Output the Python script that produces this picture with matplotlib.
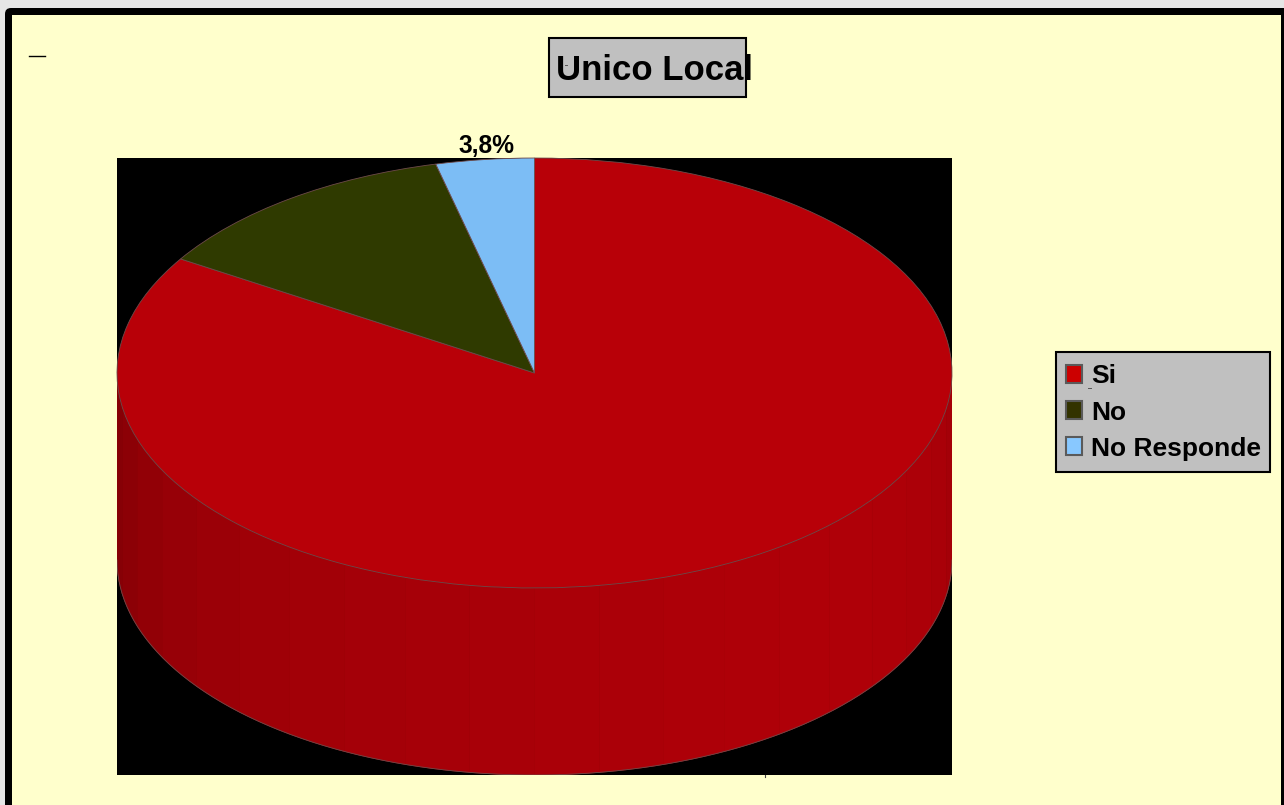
#!/usr/bin/env python3
"""Unico Local: 3D-look pie, drawn flat with a squashed axes and a shaded side wall."""
import numpy as np
import matplotlib; matplotlib.use("Agg")
import matplotlib.pyplot as plt
from matplotlib.patches import FancyBboxPatch, Rectangle, Patch

W, H = 1284, 805
plt.rcParams["font.family"] = ["Liberation Sans", "DejaVu Sans"]
plt.rcParams["font.weight"] = "bold"

TITLE = "Unico Local"
labels = ["Si", "No", "No Responde"]
values = [83.9, 12.3, 3.8]
pie_cols = ["#b80008", "#2f3a00", "#7cbdf5"]
leg_cols = ["#cc0000", "#333300", "#88c8ff"]
# side wall shades, left to right along the front of the Si slice
wall_cols = ["#860006", "#8c0006", "#920006", "#970007", "#9b0007", "#9f0007", "#a20007",
             "#a40008", "#a60008", "#a80008", "#aa0008", "#ab0008", "#ad0008", "#ae0008",
             "#af0008", "#af0008", "#ae0008", "#ac0008", "#a90008", "#a40008"]
DEPTH = 0.87   # wall height, in units of the squashed radius

fig = plt.figure(figsize=(W / 100, H / 100), dpi=100, facecolor="#e6e6e6")

# page frame, in pixel coords
bg = fig.add_axes([0, 0, 1, 1]); bg.set_xlim(0, W); bg.set_ylim(H, 0); bg.axis("off")
bg.add_patch(FancyBboxPatch((9, 12), W + 30, H + 30, boxstyle="round,pad=4,rounding_size=6",
                            fc="black", ec="none"))
bg.add_patch(Rectangle((12, 15), 1269, H, fc="#ffffcc", ec="none"))
bg.plot([29, 45], [56, 56], color="black", lw=1)
bg.plot([765, 765], [775, 777], color="#444", lw=0.8)

# title box
bg.add_patch(Rectangle((549, 38), 196.5, 59, fc="#c0c0c0", ec="black", lw=1.5))
bg.text(556, 67, TITLE, fontsize=25, ha="left", va="center_baseline", color="black")
bg.plot([565, 567], [65, 65], color="#555", lw=0.7)

# pie: y unit = squashed radius, so the limits set the ellipse
ax = fig.add_axes([117 / W, 1 - 775 / H, 835 / W, 617 / H], zorder=2)
wedges, _ = ax.pie(values, colors=pie_cols, startangle=90, counterclock=False, radius=1,
                   center=(0, 0), wedgeprops=dict(ec="#6e4a4a", lw=0.6))
ax.set_aspect("auto")
ax.set_xlim(-1, 1); ax.set_ylim(-1 - DEPTH, 1)
ax.set_frame_on(True); ax.set_facecolor("black")
for sp in ax.spines.values():
    sp.set_visible(False)

# side wall, front half of the ellipse
edges = np.linspace(np.pi, 2 * np.pi, len(wall_cols) + 1)
for a0, a1, col in zip(edges[:-1], edges[1:], wall_cols):
    th = np.linspace(a0, a1, 12)
    xs, ys = np.cos(th), np.sin(th)
    ax.fill(np.r_[xs, xs[::-1]], np.r_[ys, ys[::-1] - DEPTH], fc=col, ec=col, lw=0.5, zorder=0.5)
th = np.linspace(np.pi, 2 * np.pi, 200)
ax.plot(np.cos(th), np.sin(th) - DEPTH, color="#6e4a4a", lw=0.6, zorder=0.6)

# only the smallest slice is labelled
bg.text(486, 146, f"{values[2]:.1f}%".replace(".", ","), fontsize=17.7, ha="center",
        va="center", color="black")

# legend box drawn on its own, the legend frame can't take separate x/y padding
bg.add_patch(Rectangle((1056, 352), 214, 120, fc="#c0c0c0", ec="black", lw=1.5))
handles = [Patch(fc=c, ec="#5a5a5a", lw=1.5, label=l) for c, l in zip(leg_cols, labels)]
leg = bg.legend(handles=handles, loc="center left", bbox_to_anchor=(1066 / W, 1 - 412.5 / H),
                bbox_transform=fig.transFigure, fontsize=19, frameon=False, handlelength=0.62,
                handleheight=0.66, handletextpad=0.32, labelspacing=0.46, borderpad=0,
                borderaxespad=0)
leg.set_zorder(5)
bg.plot([1088, 1091], [388, 388], color="#555", lw=0.7, zorder=6)

fig.savefig("out.png", dpi=100, facecolor=fig.get_facecolor())
